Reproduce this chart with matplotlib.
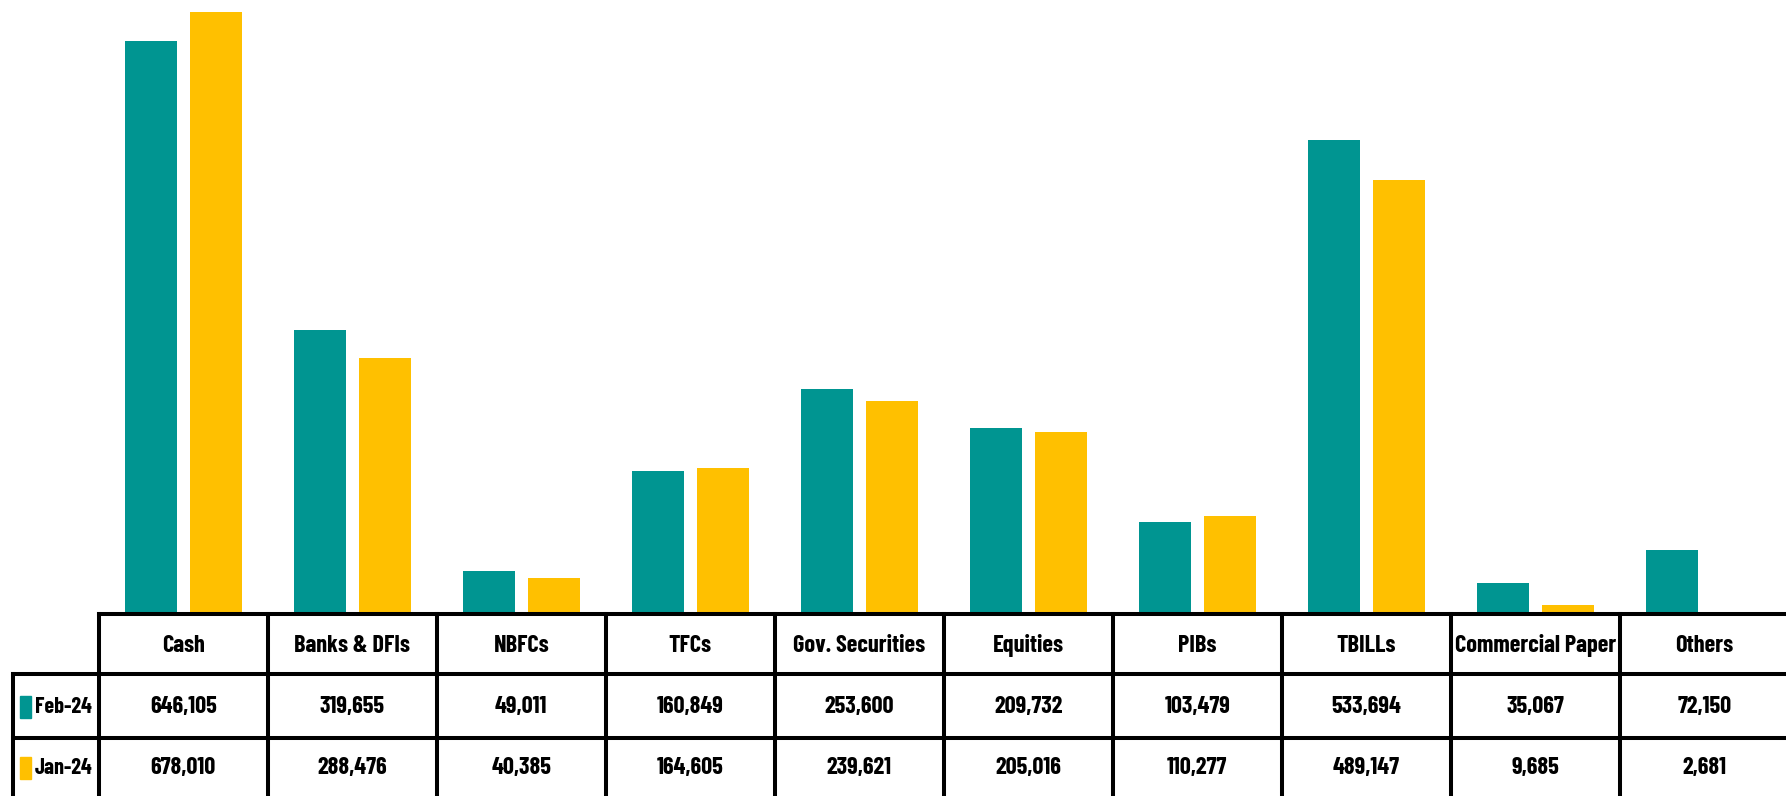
import matplotlib.pyplot as plt
from matplotlib.patches import Rectangle
import numpy as np

categories = ["Cash", "Banks & DFIs", "NBFCs", "TFCs", "Gov. Securities",
              "Equities", "PIBs", "TBILLs", "Commercial Paper", "Others"]
feb_24 = [646105, 319655, 49011, 160849, 253600, 209732, 103479, 533694, 35067, 72150]
jan_24 = [678010, 288476, 40385, 164605, 239621, 205016, 110277, 489147, 9685, 2681]
series_names = ["Feb-24", "Jan-24"]

TEAL = "#009591"
GOLD = "#FFC000"

plt.rcParams['font.family'] = ['Barlow Condensed', 'DejaVu Sans']

W, H = 1786, 796
fig = plt.figure(figsize=(W / 100, H / 100), dpi=100)
fig.patch.set_facecolor("white")

# pixel layout
col_left = 98.7
col_w = 169.0
base_y = 614.0
n = len(categories)

ax = fig.add_axes([col_left / W, (H - base_y) / H, n * col_w / W, base_y / H])
x = np.arange(n)
bw = 0.308
off = 0.192
ax.bar(x - off, feb_24, width=bw, color=TEAL)
ax.bar(x + off, jan_24, width=bw, color=GOLD)
ax.set_xlim(-0.5, n - 0.5)
ax.set_ylim(0, 692000)
ax.axis("off")

# data table below the bars, y in pixels from the top of the figure
tab = fig.add_axes([col_left / W, 0, n * col_w / W, (H - base_y) / H])
tab.set_xlim(-0.5, n - 0.5)
tab.set_ylim(H, base_y)
tab.axis("off")

rows = [614, 674, 738, 803]
lab_left = -0.5 - (col_left - 12.7) / col_w
lw = 2.9
right = n - 0.5

tab.plot([-0.5, right], [rows[0], rows[0]], color="black", lw=lw, clip_on=False)
for r in rows[1:3]:
    tab.plot([lab_left, right], [r, r], color="black", lw=lw, clip_on=False)
tab.plot([lab_left, lab_left], [rows[1], rows[3]], color="black", lw=lw, clip_on=False)
for i in range(n + 1):
    tab.plot([i - 0.5, i - 0.5], [rows[0], rows[3]], color="black", lw=lw, clip_on=False)

fs = 17.5
y_head, y_feb, y_jan = 646, 707, 768
for i, name in enumerate(categories):
    tab.text(i, y_head, name, ha="center", va="center",
             fontsize=fs, fontweight="bold", clip_on=False)
    tab.text(i, y_feb, f"{feb_24[i]:,}", ha="center", va="center",
             fontsize=fs, fontweight="bold", clip_on=False)
    tab.text(i, y_jan, f"{jan_24[i]:,}", ha="center", va="center",
             fontsize=fs, fontweight="bold", clip_on=False)

# row labels with colour keys
for yc, name, c in zip([y_feb, y_jan], series_names, [TEAL, GOLD]):
    kx = lab_left + 7.5 / col_w
    tab.add_patch(Rectangle((kx, yc - 11), 11 / col_w, 22, color=c, clip_on=False))
    tab.text(lab_left + 22 / col_w, yc, name, ha="left", va="center",
             fontsize=16, fontweight="bold", clip_on=False)

fig.savefig("out.png", dpi=100)
